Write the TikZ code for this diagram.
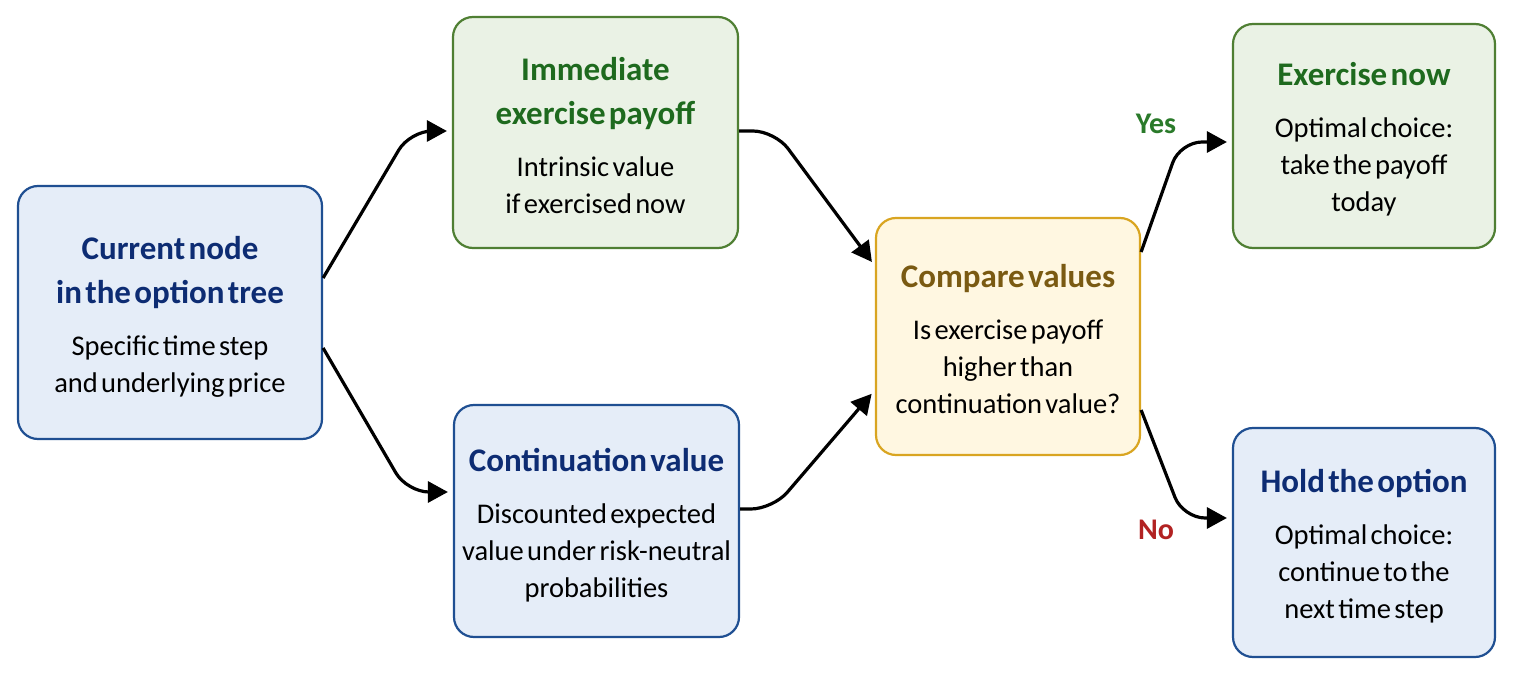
\documentclass[tikz,border=0pt]{standalone}
\usepackage{fontspec}
\setmainfont{Carlito}[WordSpace=1.35]
\usetikzlibrary{arrows.meta}
\definecolor{bluefill}{HTML}{E5EDF8}
\definecolor{blueline}{HTML}{1F4F92}
\definecolor{bluetitle}{HTML}{0D2C73}
\definecolor{greenfill}{HTML}{EAF2E5}
\definecolor{greenline}{HTML}{4F7F33}
\definecolor{greentitle}{HTML}{1E6A1E}
\definecolor{yelfill}{HTML}{FFF7E1}
\definecolor{yelline}{HTML}{D9A521}
\definecolor{yeltitle}{HTML}{7A5A12}
\definecolor{yescol}{HTML}{2A7A2A}
\definecolor{nocol}{HTML}{B22222}
\newcommand\boxtext[3]{{\fontsize{33}{44}\selectfont\bfseries\color{#1}#2\par}\vspace{15pt}{\fontsize{28.5}{37}\selectfont #3\par}}
\tikzset{
  box/.style={draw, line width=2.2pt, rounded corners=20pt, inner sep=0pt},
  bluebox/.style={box, draw=blueline, fill=bluefill},
  greenbox/.style={box, draw=greenline, fill=greenfill},
  yelbox/.style={box, draw=yelline, fill=yelfill},
  txt/.style={inner sep=0pt, align=center, text width=#1},
  conn/.style={line width=3.2pt, rounded corners=22pt, line join=round, -{Triangle[length=20pt,width=21pt]}, shorten >=5pt},
  lbl/.style={font=\fontsize{30}{36}\selectfont\bfseries}
}
\begin{document}
\begin{tikzpicture}[x=1pt,y=-1pt]
\useasboundingbox (0,0) rectangle (1513,676);
\node[bluebox, minimum width=304pt, minimum height=253pt] (A) at (170,312.5) {};
\node[txt=300pt] (At) at ([yshift=-4pt]A.center)
  {\boxtext{bluetitle}{Current node\\in the option tree}{Specific time step\\and underlying price}};
\node[greenbox, minimum width=285pt, minimum height=231pt] (B) at (595.5,132.5) {};
\node[txt=280pt] (Bt) at ([yshift=-3pt]B.center)
  {\boxtext{greentitle}{Immediate\\exercise payoff}{Intrinsic value\\if exercised now}};
\node[bluebox, minimum width=285pt, minimum height=232pt] (C) at (596.5,521) {};
\node[txt=280pt] (Ct) at ([yshift=-4pt]C.center)
  {\boxtext{bluetitle}{Continuation value}{Discounted expected\\value under risk-neutral\\probabilities}};
\node[yelbox, minimum width=264pt, minimum height=237pt] (D) at (1008,336.5) {};
\node[txt=260pt] (Dt) at ([yshift=-3pt]D.center)
  {\boxtext{yeltitle}{Compare values}{Is exercise payoff\\higher than\\continuation value?}};
\node[greenbox, minimum width=262pt, minimum height=224pt] (E) at (1364,136) {};
\node[txt=258pt] (Et) at ([yshift=-3pt]E.center)
  {\boxtext{greentitle}{Exercise now}{Optimal choice:\\take the payoff\\today}};
\node[bluebox, minimum width=262pt, minimum height=229pt] (F) at (1364,542.5) {};
\node[txt=258pt] (Ft) at ([yshift=-4pt]F.center)
  {\boxtext{bluetitle}{Hold the option}{Optimal choice:\\continue to the\\next time step}};
\draw[conn] (A.east |- 0,278) -- (410,131) -- (B.west |- 0,131);
\draw[conn] (A.east |- 0,348) -- (407,492) -- (C.west |- 0,492);
\draw[conn] (B.east |- 0,131) -- (775,131) -- (D.west |- 0,266);
\draw[conn] (C.east |- 0,509) -- (773,509) -- (D.west |- 0,390);
\draw[conn] (D.east |- 0,252) -- (1180,142) -- (E.west |- 0,142);
\draw[conn] (D.east |- 0,410) -- (1183,518) -- (F.west |- 0,518);
\node[lbl, text=yescol] (yes) at (1156,124) {Yes};
\node[lbl, text=nocol] (no) at (1156,530) {No};
\end{tikzpicture}
\end{document}
